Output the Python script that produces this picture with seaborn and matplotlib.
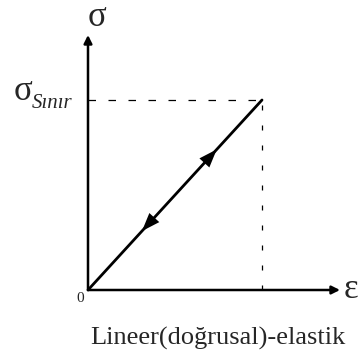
import matplotlib
matplotlib.use("Agg")
import matplotlib.pyplot as plt
import seaborn as sns
import pandas as pd

# Linear-elastic stress-strain relation (normalized to the limit point)
strain = [0.0, 1.0]
stress = [0.0, 1.0]
limit_strain = 1.0
limit_stress = 1.0
axis_labels = ["σ", "ε"]
limit_label = ("σ", "Sınır")
origin_label = "0"
caption = "Lineer(doğrusal)-elastik"

sns.set_theme(style="white")
plt.rcParams["font.family"] = ["Liberation Serif", "DejaVu Serif"]

W = H = 358
fig = plt.figure(figsize=(W / 100, H / 100), dpi=100)
ox, oy = 88, 290       # origin in pixels (from top)
lx, ly = 262, 100      # limit point in pixels
ax = fig.add_axes([ox / W, 1 - oy / H, (lx - ox) / W, (oy - ly) / H])
ax.set_xlim(0, 1)
ax.set_ylim(0, 1)
ax.axis("off")

df = pd.DataFrame({"strain": strain, "stress": stress})
sns.lineplot(data=df, x="strain", y="stress", ax=ax, color="black", lw=2.0,
             clip_on=False)

# loading / unloading arrowheads along the line
head = "-|>,head_length=0.6,head_width=0.22"
ax.annotate("", xy=(0.74, 0.74), xytext=(0.60, 0.60),
            arrowprops=dict(arrowstyle=head, color="black", lw=0,
                            mutation_scale=22, shrinkA=0, shrinkB=0),
            annotation_clip=False)
ax.annotate("", xy=(0.31, 0.31), xytext=(0.45, 0.45),
            arrowprops=dict(arrowstyle=head, color="black", lw=0,
                            mutation_scale=22, shrinkA=0, shrinkB=0),
            annotation_clip=False)

# axes with arrows
ymax = (oy - 35) / (oy - ly)
xmax = (340 - ox) / (lx - ox)
ax.annotate("", xy=(0, ymax), xytext=(0, 0),
            arrowprops=dict(arrowstyle="-|>", color="black", lw=1.8,
                            mutation_scale=12, shrinkA=0, shrinkB=0),
            annotation_clip=False)
ax.annotate("", xy=(xmax, 0), xytext=(0, 0),
            arrowprops=dict(arrowstyle="-|>", color="black", lw=1.8,
                            mutation_scale=12, shrinkA=0, shrinkB=0),
            annotation_clip=False)

# dashed guides to the limit point
ax.plot([0, limit_strain], [limit_stress, limit_stress], color="black", lw=0.9,
        ls=(0, (6, 10)), clip_on=False)
ax.plot([limit_strain, limit_strain], [0, limit_stress], color="black", lw=0.9,
        ls=(0, (4, 12)), clip_on=False)

# labels
fig.text(97 / W, 1 - 17 / H, axis_labels[0], fontsize=25, ha="center", va="center")
fig.text(351 / W, 1 - 290 / H, axis_labels[1], fontsize=25, ha="center", va="center")
fig.text(23 / W, 1 - 92 / H, limit_label[0], fontsize=25, ha="center", va="center")
fig.text(32 / W, 1 - 104 / H, limit_label[1], fontsize=15, style="italic",
         ha="left", va="center")
fig.text(80 / W, 1 - 298 / H, origin_label, fontsize=11, ha="center", va="center")
fig.text(218 / W, 1 - 338 / H, caption, fontsize=19, ha="center", va="center")

fig.savefig("out.png", dpi=100, facecolor="white")
